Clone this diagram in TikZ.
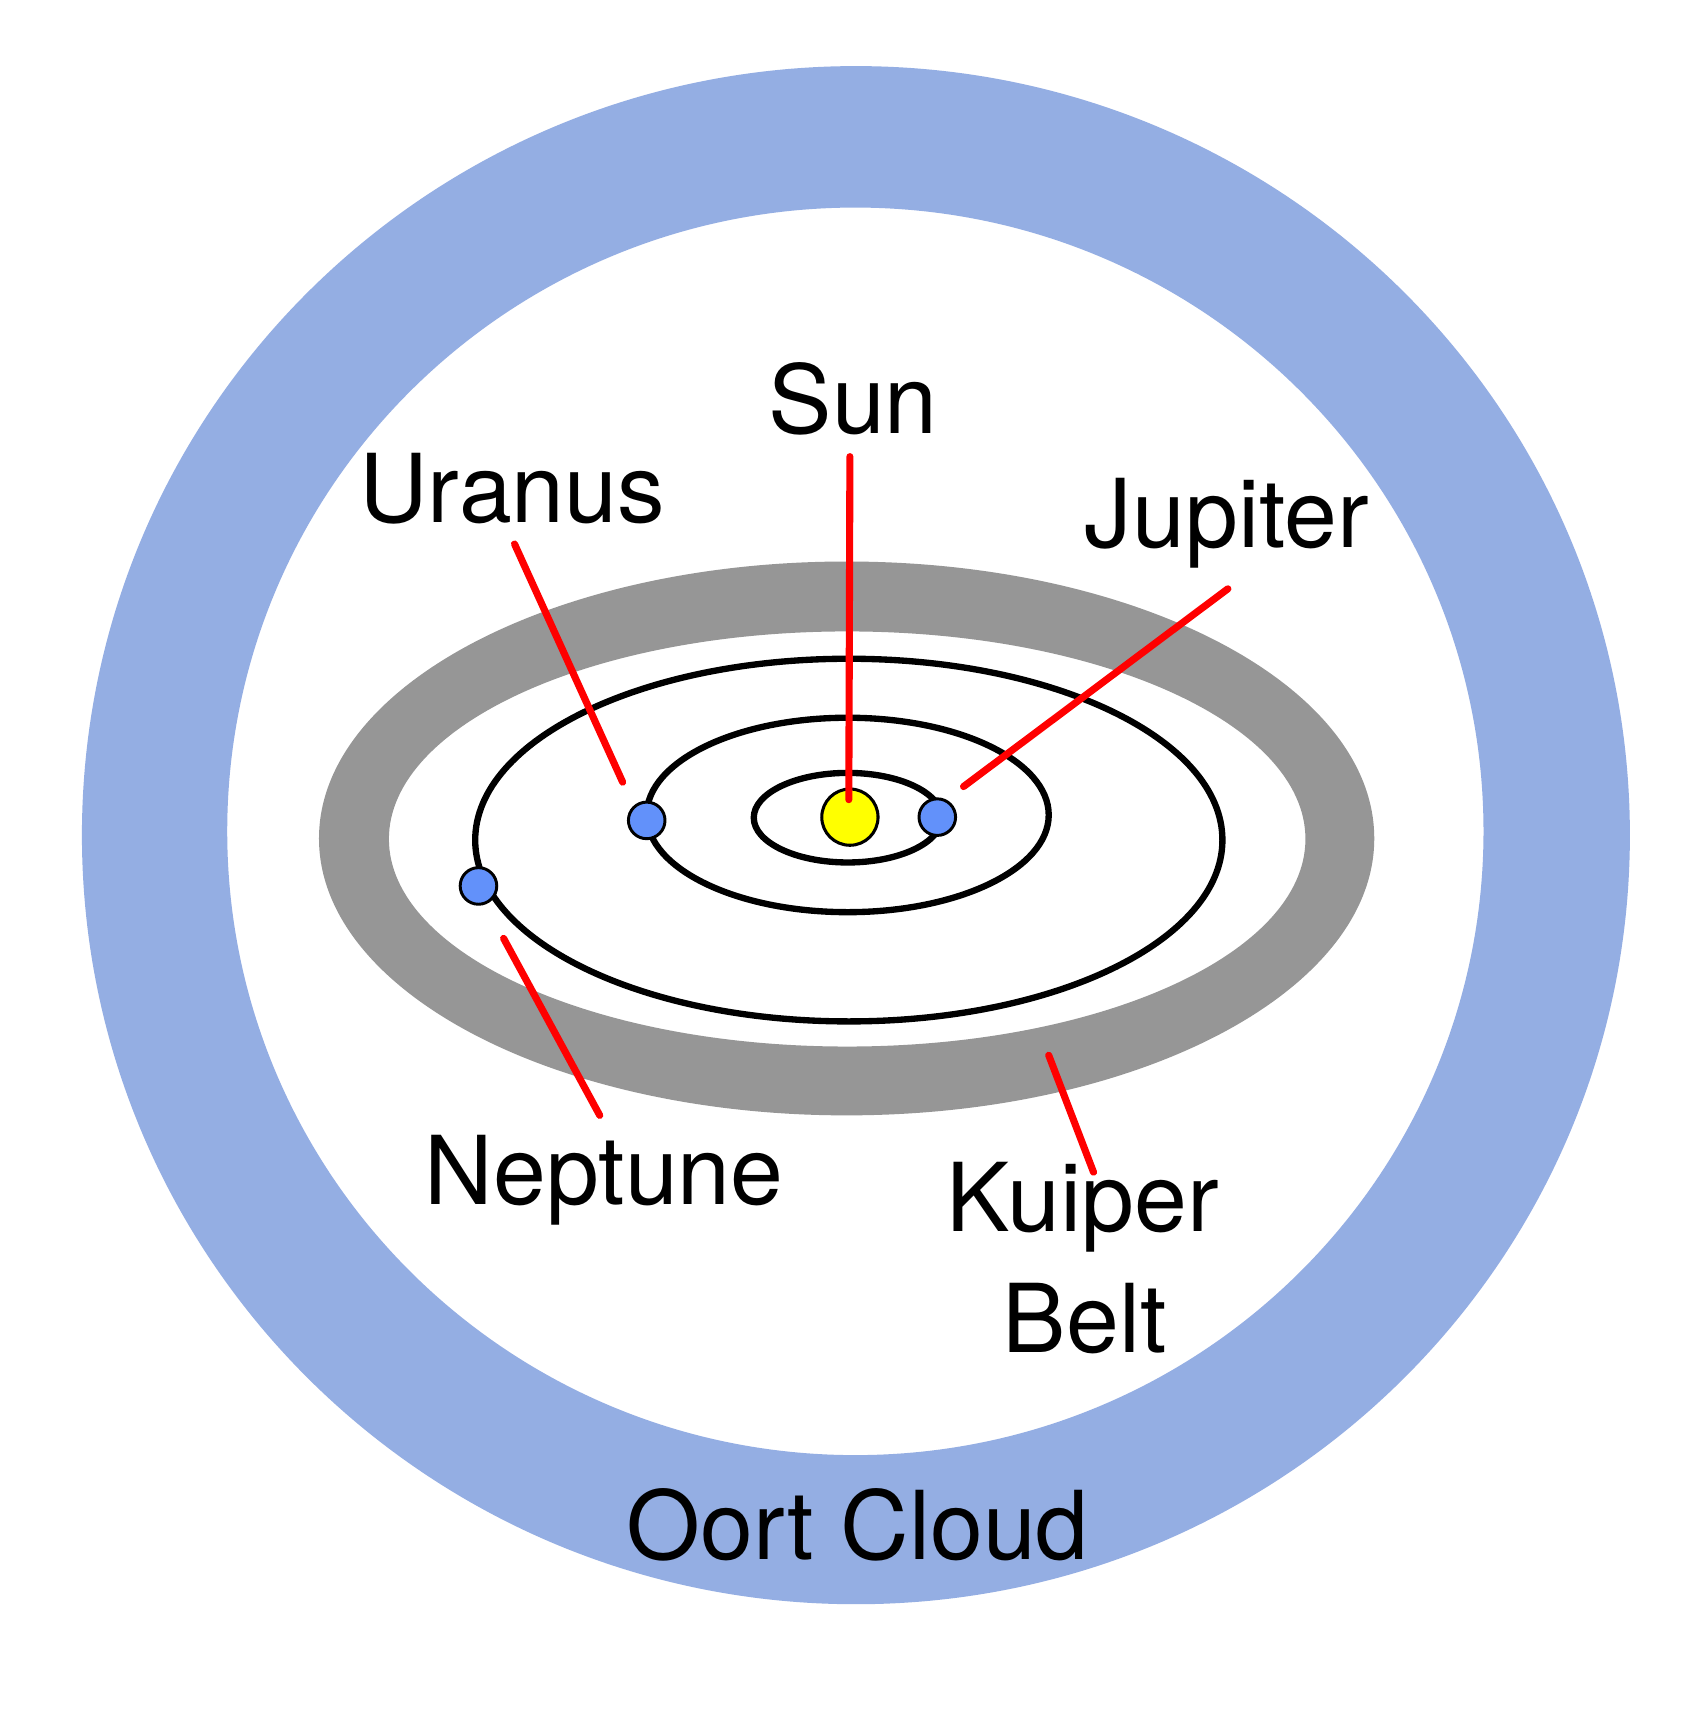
\documentclass[tikz,border=0pt]{standalone}
\usepackage{fontspec}
\setmainfont{TeX Gyre Heros}
\definecolor{oortblue}{RGB}{148,174,227}
\definecolor{beltgray}{RGB}{150,150,150}
\definecolor{planetblue}{RGB}{98,145,250}
\definecolor{sunyellow}{RGB}{255,255,0}
\begin{document}
\begin{tikzpicture}[x=1pt,y=-1pt,
  orbit/.style={draw=black,line width=5.8pt},
  planet/.style={circle,draw=black,line width=2.7pt,fill=planetblue,minimum size=33.5pt,inner sep=0pt},
  star/.style={circle,draw=black,line width=2.8pt,fill=sunyellow,minimum size=51.5pt,inner sep=0pt},
  label/.style={anchor=base,inner sep=0pt,font=\fontsize{87}{100}\selectfont},
  pointer/.style={draw=red,line width=6.5pt,line cap=round}]
\useasboundingbox (0,0) rectangle (1563,1569);
\fill[white] (0,0) rectangle (1563,1569);
% Oort cloud ring
\fill[oortblue,even odd rule] (783.5,764.5) ellipse[x radius=708.5pt,y radius=704pt]
  (783,761) ellipse[x radius=575pt,y radius=571pt];
% Kuiper belt ring
\fill[beltgray,even odd rule] (775,767.5) ellipse[x radius=483pt,y radius=253.5pt]
  (775.5,768) ellipse[x radius=419.5pt,y radius=190pt];
% orbits
\draw[orbit] (777,769) ellipse[x radius=342pt,y radius=166pt];
\draw[orbit] (776,746) ellipse[x radius=184pt,y radius=89pt];
\draw[orbit] (776,748.5) ellipse[x radius=86pt,y radius=41pt];
% bodies
\node[star] (sun) at (778,748) {};
\node[planet] (jupiter) at (858,748) {};
\node[planet] (uranus) at (592,751) {};
\node[planet] (neptune) at (438,811) {};
% labels
\node[label] (lsun) at (781,397) {Sun};
\node[label] (luranus) at (469,478) {Uranus};
\node[label] (ljupiter) at (1123,501) {Jupiter};
\node[label] (lneptune) at (553,1103) {Neptune};
\node[label] (lkuiper) at (991,1127) {Kuiper};
\node[label] (lbelt) at (993,1238) {Belt};
\node[label] (loort) at (785,1428) {Oort Cloud};
% pointer ends
\coordinate (psunA) at (778,418);
\coordinate (psunB) at (777,732);
\coordinate (puraA) at (471,498);
\coordinate (puraB) at (570,716);
\coordinate (pjupA) at (1124,539);
\coordinate (pjupB) at (882,720);
\coordinate (pnepA) at (461,859);
\coordinate (pnepB) at (549,1021);
\coordinate (pkuiA) at (960,966);
\coordinate (pkuiB) at (1001,1073);
\draw[pointer] (psunA) -- (psunB);
\draw[pointer] (puraA) -- (puraB);
\draw[pointer] (pjupA) -- (pjupB);
\draw[pointer] (pnepA) -- (pnepB);
\draw[pointer] (pkuiA) -- (pkuiB);
\end{tikzpicture}
\end{document}
